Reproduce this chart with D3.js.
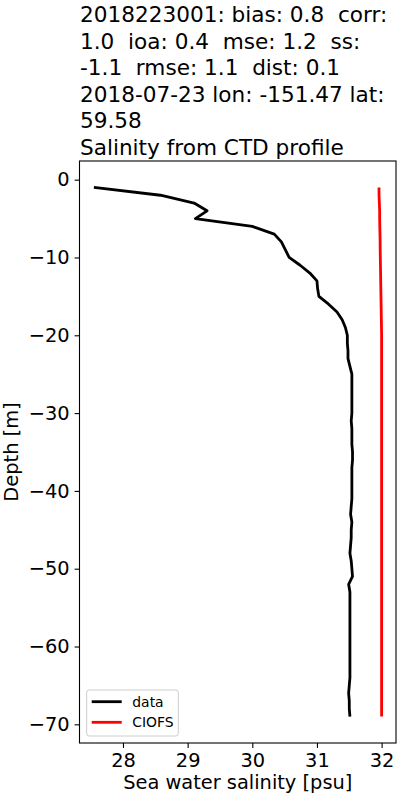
<!DOCTYPE html>
<html>
<head>
<meta charset="utf-8">
<script src="https://cdn.jsdelivr.net/npm/d3@7/dist/d3.min.js"></script>
<style>
  html, body { margin: 0; padding: 0; background: #fff; }
  svg { display: block; font-family: "DejaVu Sans", sans-serif; }
</style>
</head>
<body>
<svg id="chart" width="400" height="800"></svg>
<script>
// ---- data ----
const depths = d3.range(-1, -70, -1); // -1 .. -69 m
const dataSalinity = [
  27.55, 28.58, 29.10, 29.30, 29.12, 30.00, 30.34, 30.45, 30.51, 30.57,
  30.74, 30.89, 31.00, 31.01, 31.03, 31.18, 31.31, 31.39, 31.44, 31.47,
  31.47, 31.48, 31.48, 31.51, 31.54, 31.54, 31.54, 31.54, 31.54, 31.54,
  31.53, 31.54, 31.54, 31.54, 31.55, 31.55, 31.54, 31.54, 31.54, 31.54,
  31.54, 31.53, 31.52, 31.54, 31.53, 31.53, 31.52, 31.51, 31.53, 31.54,
  31.55, 31.49, 31.51, 31.51, 31.51, 31.51, 31.51, 31.51, 31.51, 31.51,
  31.51, 31.51, 31.51, 31.51, 31.50, 31.49, 31.50, 31.50, 31.51
];
const modelSalinity = [
  31.96, 31.96, 31.965, 31.97, 31.97, 31.972, 31.975, 31.977, 31.978, 31.98,
  31.982, 31.984, 31.986, 31.988, 31.99, 31.992, 31.994, 31.996, 31.998, 32.0,
  32.0, 32.0, 32.0, 32.0, 32.0, 32.0, 32.0, 32.0, 32.0, 32.0,
  32.0, 32.0, 32.0, 32.0, 32.0, 32.0, 32.0, 32.0, 32.0, 32.0,
  32.0, 32.0, 32.0, 32.0, 32.0, 32.0, 32.0, 32.0, 32.0, 32.0,
  32.0, 32.0, 32.0, 32.0, 32.0, 32.0, 32.0, 32.0, 32.0, 32.0,
  32.0, 32.0, 32.0, 32.0, 32.0, 32.0, 32.0, 32.0, 32.0
];
const xTicks = [28, 29, 30, 31, 32];
const yTicks = [0, -10, -20, -30, -40, -50, -60, -70];
const titleLines = [
  "2018223001: bias: 0.8  corr:",
  "1.0  ioa: 0.4  mse: 1.2  ss:",
  "-1.1  rmse: 1.1  dist: 0.1",
  "2018-07-23 lon: -151.47 lat:",
  "59.58",
  "Salinity from CTD profile"
];
const seriesNames = ["data", "CIOFS"];
const seriesColors = ["#000000", "#ff0000"];
const xLabel = "Sea water salinity [psu]";
const yLabel = "Depth [m]";

// ---- layout ----
const svg = d3.select("#chart");
const L = 79.5, R = 396, T = 161, B = 743;

// matplotlib-like 5% margins
const allX = dataSalinity.concat(modelSalinity);
const xmin = d3.min(allX), xmax = d3.max(allX);
const xpad = (xmax - xmin) * 0.05;
const ymin = d3.min(depths), ymax = d3.max(depths);
const ypad = (ymax - ymin) * 0.05;

const x = d3.scaleLinear().domain([xmin - xpad, xmax + xpad]).range([L, R]);
const y = d3.scaleLinear().domain([ymin - ypad, ymax + ypad]).range([B, T]);

const fs = 19.4;

// lines
const line = d3.line().x(d => x(d[0])).y(d => y(d[1]));
const series = [dataSalinity, modelSalinity];
series.forEach((s, i) => {
  svg.append("path")
    .datum(s.map((v, j) => [v, depths[j]]))
    .attr("fill", "none")
    .attr("stroke", seriesColors[i])
    .attr("stroke-width", 2.8)
    .attr("stroke-linejoin", "round")
    .attr("d", line);
});

// axes
const fmt = d => (d < 0 ? "\u2212" + Math.abs(d) : String(d));
const xAxis = svg.append("g")
  .attr("transform", `translate(0,${B})`)
  .call(d3.axisBottom(x).tickValues(xTicks).tickFormat(fmt).tickSizeOuter(0).tickSize(4.9).tickPadding(4.9));
const yAxis = svg.append("g")
  .attr("transform", `translate(${L},0)`)
  .call(d3.axisLeft(y).tickValues(yTicks).tickFormat(fmt).tickSizeOuter(0).tickSize(4.9).tickPadding(4.9));
[xAxis, yAxis].forEach(g => {
  g.select(".domain").remove();
  g.selectAll(".tick line").attr("stroke", "#000").attr("stroke-width", 1.1);
  g.selectAll(".tick text").attr("fill", "#000")
    .style("font-family", "DejaVu Sans").style("font-size", fs + "px");
});

// frame
svg.append("rect")
  .attr("x", L).attr("y", T).attr("width", R - L).attr("height", B - T)
  .attr("fill", "none").attr("stroke", "#000").attr("stroke-width", 1.1);

// axis labels
svg.append("text")
  .attr("x", (L + R) / 2).attr("y", 789)
  .attr("text-anchor", "middle")
  .style("font-size", fs + "px")
  .text(xLabel);
svg.append("text")
  .attr("transform", `translate(18,${(T + B) / 2}) rotate(-90)`)
  .attr("text-anchor", "middle")
  .style("font-size", fs + "px")
  .text(yLabel);

// title
titleLines.forEach((t, i) => {
  svg.append("text")
    .attr("x", 80).attr("y", 22 + i * 26.6)
    .style("font-size", "21.6px")
    .attr("xml:space", "preserve")
    .style("white-space", "pre")
    .text(t);
});

// legend
const lg = svg.append("g");
lg.append("rect")
  .attr("x", 86.7).attr("y", 690).attr("width", 91.6).attr("height", 46)
  .attr("rx", 2.5)
  .attr("fill", "#fff").attr("fill-opacity", 0.8)
  .attr("stroke", "#cccccc").attr("stroke-width", 1);
seriesNames.forEach((n, i) => {
  const yy = 701.7 + i * 20.6;
  lg.append("line")
    .attr("x1", 91.7).attr("x2", 121.7).attr("y1", yy).attr("y2", yy)
    .attr("stroke", seriesColors[i]).attr("stroke-width", 2.8);
  lg.append("text")
    .attr("x", 132.3).attr("y", yy + 5)
    .style("font-size", "13.9px")
    .text(n);
});
</script>
</body>
</html>
